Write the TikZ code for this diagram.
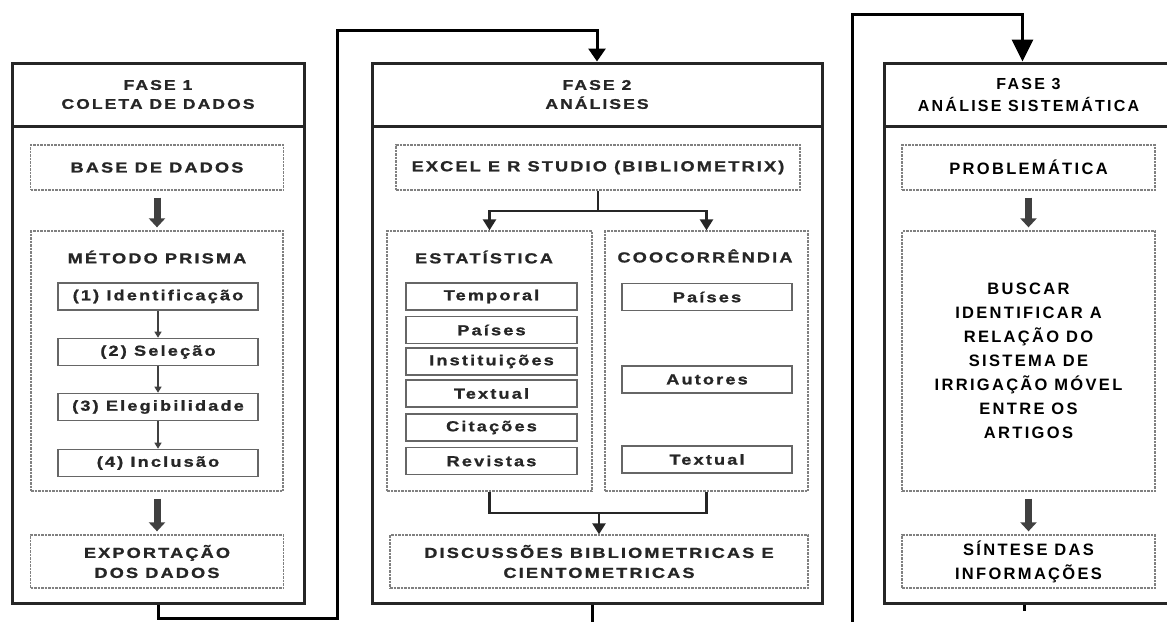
\documentclass[tikz,border=0pt]{standalone}
\usepackage{fontspec}
\usetikzlibrary{arrows.meta}
\newfontfamily\wf[FakeStretch=1.25,LetterSpace=15,FakeBold=1.2]{Liberation Sans}
\newfontfamily\tf[LetterSpace=14]{Liberation Sans}
\tikzset{
  outer/.style={draw=black!85,line width=3pt,inner sep=0pt,minimum height=540pt},
  hdr/.style={draw=black!85,line width=3pt,inner sep=0pt,minimum height=63pt,align=center,
    font=\wf\bfseries\fontsize{14}{19}\selectfont,text=black!85},
  hdrthree/.style={hdr,font=\tf\bfseries\fontsize{16}{22}\selectfont,text=black},
  wtxt/.style={inner sep=0pt,align=center,font=\wf\bfseries\fontsize{14.5}{20}\selectfont,text=black!85},
  ttxt/.style={inner sep=0pt,align=center,font=\tf\bfseries\fontsize{16.5}{24}\selectfont,text=black},
  dbox/.style={draw=black!50,dash pattern=on 2.5pt off 1pt,line width=1.3pt,inner sep=0pt,align=center},
  ibox/.style={wtxt,draw=black!60,line width=1.6pt,minimum height=27pt},
  conn/.style={draw=black,line width=3pt},
  fat/.style={draw=black!75,line width=7pt,-{Triangle[width=16pt,length=9pt]},shorten <=7pt,shorten >=3pt},
  sarr/.style={draw=black!75,line width=1.2pt,-{Triangle[width=7pt,length=6pt]}},
  fork/.style={draw=black!85,line width=2.5pt},
  forka/.style={fork,-{Triangle[width=13pt,length=11pt]}}
}
\begin{document}
\begin{tikzpicture}[x=1pt,y=-1pt]
\useasboundingbox (0,0) rectangle (1167,621);
\clip (0,0) rectangle (1167,621);

% ---------- Phase 1 ----------
\node[outer,minimum width=292pt] (ph1) at (158,333) {};
\node[hdr,minimum width=292pt] (h1) at (158,94.5) {FASE 1\\COLETA DE DADOS};
\node[dbox,wtxt,minimum width=253pt,minimum height=45pt] (base) at (157,167.5) {BASE DE DADOS};
\node[dbox,minimum width=252pt,minimum height=260pt] (prisma) at (157,361) {};
\node[wtxt] (prismaT) at (157,257) {MÉTODO PRISMA};
\node[ibox,minimum width=200pt] (i1) at (158,296.5) {(1) Identificação};
\node[ibox,minimum width=200pt] (i2) at (158,352) {(2) Seleção};
\node[ibox,minimum width=200pt] (i3) at (158,407) {(3) Elegibilidade};
\node[ibox,minimum width=200pt] (i4) at (158,463) {(4) Inclusão};
\node[dbox,wtxt,minimum width=253pt,minimum height=53pt] (expo) at (157,561.5) {EXPORTAÇÃO\\DOS DADOS};
\draw[fat] (base) -- (prisma);
\draw[fat] (prisma) -- (expo);
\draw[sarr] (i1) -- (i2);
\draw[sarr] (i2) -- (i3);
\draw[sarr] (i3) -- (i4);

% ---------- Phase 2 ----------
\node[outer,minimum width=450pt] (ph2) at (597,333) {};
\node[hdr,minimum width=450pt] (h2) at (597,94.5) {FASE 2\\ANÁLISES};
\node[dbox,wtxt,minimum width=404pt,minimum height=45pt] (excel) at (598,167.5) {EXCEL E R STUDIO (BIBLIOMETRIX)};
\node[dbox,minimum width=205pt,minimum height=260pt] (estat) at (489.5,361) {};
\node[dbox,minimum width=203pt,minimum height=260pt] (cooc) at (706.5,361) {};
\node[wtxt] (estatT) at (484,257) {ESTATÍSTICA};
\node[wtxt] (coocT) at (705,256) {COOCORRÊNDIA};
\node[ibox,minimum width=171pt] (e1) at (491.5,296.5) {Temporal};
\node[ibox,minimum width=171pt] (e2) at (491.5,330) {Países};
\node[ibox,minimum width=171pt] (e3) at (491.5,361.5) {Instituições};
\node[ibox,minimum width=171pt] (e4) at (491.5,393.5) {Textual};
\node[ibox,minimum width=171pt] (e5) at (491.5,427.5) {Citações};
\node[ibox,minimum width=171pt] (e6) at (491.5,461) {Revistas};
\node[ibox,minimum width=170pt] (c1) at (707,297) {Países};
\node[ibox,minimum width=170pt] (c2) at (707,379.5) {Autores};
\node[ibox,minimum width=170pt] (c3) at (707,459.5) {Textual};
\node[dbox,wtxt,minimum width=418pt,minimum height=53pt] (disc) at (599,561.5) {DISCUSSÕES BIBLIOMETRICAS E\\CIENTOMETRICAS};
\coordinate (fk) at (598,211);
\draw[fork] (excel.south) -- (fk);
\draw[forka] (fk) -| (estat.north);
\draw[forka] (fk) -| (cooc.north);
\coordinate (mg) at (599,513);
\draw[fork] (estat.south) |- (mg) -| (cooc.south);
\draw[forka] (mg) -- (disc.north);

% ---------- Phase 3 ----------
\node[outer,minimum width=289pt] (ph3) at (1028.5,333) {};
\node[hdrthree,minimum width=289pt] (h3) at (1028.5,95) {FASE 3\\ANÁLISE SISTEMÁTICA};
\node[dbox,ttxt,minimum width=253pt,minimum height=45pt] (prob) at (1028.5,167.5) {PROBLEMÁTICA};
\node[dbox,ttxt,minimum width=253pt,minimum height=260pt] (busca) at (1028.5,361) {BUSCAR\\IDENTIFICAR A\\RELAÇÃO DO\\SISTEMA DE\\IRRIGAÇÃO MÓVEL\\ENTRE OS\\ARTIGOS};
\node[dbox,ttxt,minimum width=253pt,minimum height=53pt] (sint) at (1028.5,561.5) {SÍNTESE DAS\\INFORMAÇÕES};
\draw[fat] (prob) -- (busca);
\draw[fat] (busca) -- (sint);

% ---------- Connectors between phases ----------
\coordinate (a1) at (337,618);
\coordinate (a2) at (337,30);
\draw[conn,-{Triangle[width=17pt,length=13pt]}] (ph1.south) |- (a1) -- (a2) -| (ph2.north);
\coordinate (b1) at (852,624);
\coordinate (b2) at (852,14);
\draw[conn,-{Triangle[width=21pt,length=22pt]}] ([xshift=-5pt]ph2.south) |- (b1) -- (b2) -| ([xshift=-6pt]ph3.north);
\coordinate (s3) at (1024,611);
\draw[conn] ([xshift=-4.5pt]ph3.south) -- (s3);
\end{tikzpicture}
\end{document}
